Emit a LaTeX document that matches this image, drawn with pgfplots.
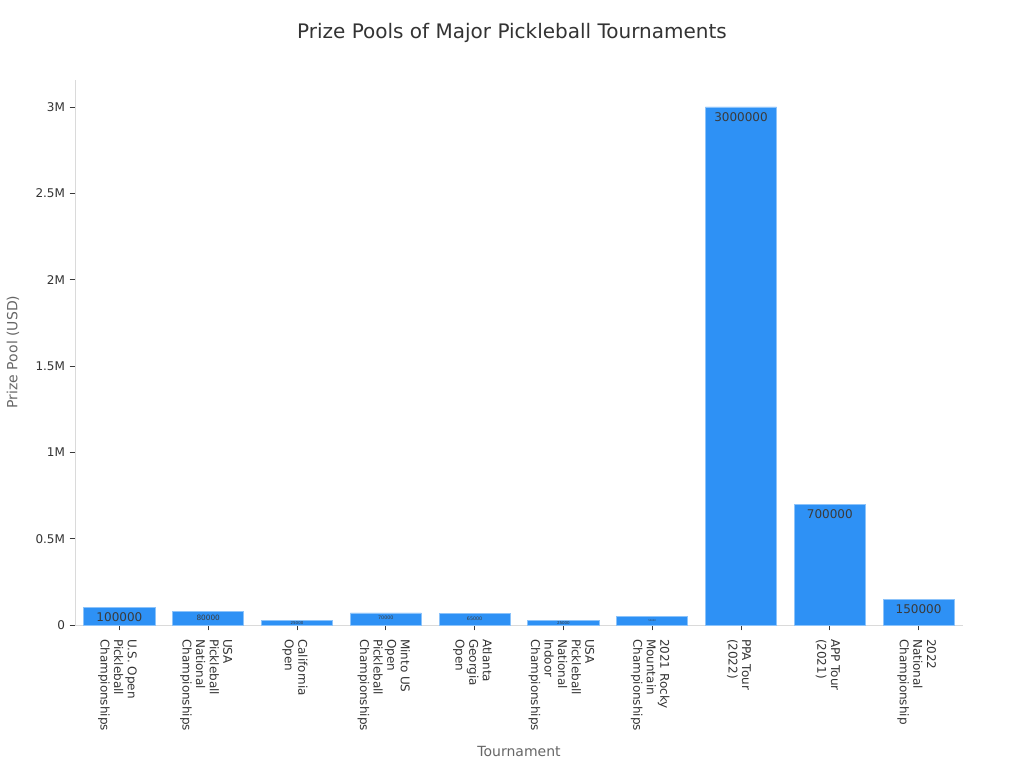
\documentclass[border=0pt]{standalone}
\usepackage{fontspec}
\setmainfont{DejaVu Sans}
\usepackage{pgfplots}
\usepackage{pgfplotstable}
\pgfplotsset{compat=1.18}
\definecolor{barblue}{HTML}{2E91F5}
\definecolor{baredge}{HTML}{8CC3FA}
\definecolor{txt}{HTML}{333333}
\definecolor{lbl}{HTML}{3A3A3A}
\definecolor{axlbl}{HTML}{666666}
\definecolor{spine}{HTML}{DADADA}

\pgfplotstableread{
x y
0 100000
1 80000
2 25000
3 70000
4 65000
5 25000
6 50000
7 3000000
8 700000
9 150000
}\prizes

\begin{document}
\begin{tikzpicture}
\path[use as bounding box] (0pt,0pt) rectangle (768pt,576pt);
\node[text=txt, font=\fontsize{15}{17}\selectfont] at (384pt,551.25pt) {Prize Pools of Major Pickleball Tournaments};
\node[text=axlbl, font=\fontsize{10.5}{12}\selectfont] at (389.25pt,12.75pt) {Tournament};
\node[text=axlbl, font=\fontsize{10.5}{12}\selectfont, rotate=90] at (9.75pt,312pt) {Prize Pool (USD)};
\begin{axis}[
  at={(56.25pt,107.25pt)}, anchor=south west,
  scale only axis, width=666pt, height=408.75pt,
  xmin=-0.5, xmax=9.5, ymin=0, ymax=3156000,
  ybar, bar width=0.8, bar shift=0pt,
  axis x line*=bottom, axis y line*=left,
  axis line style={spine, line width=0.6pt},
  tick align=outside, major tick length=4pt,
  tick style={lbl, line width=0.6pt},
  xtick={0,...,9},
  xticklabels={
    {U.S. Open\\Pickleball\\Championships},
    {USA\\Pickleball\\National\\Championships},
    {California\\Open},
    {Minto US\\Open\\Pickleball\\Championships},
    {Atlanta\\Georgia\\Open},
    {USA\\Pickleball\\National\\Indoor\\Championships},
    {2021 Rocky\\Mountain\\Championships},
    {PPA Tour\\(2022)},
    {APP Tour\\(2021)},
    {2022\\National\\Championship}},
  xticklabel shift=3pt,
  xticklabel style={xshift=-1.5pt, rotate=-90, anchor=west, align=left, text=txt,
    font=\fontsize{9}{10.2}\selectfont},
  ytick={0,500000,1000000,1500000,2000000,2500000,3000000},
  yticklabels={0,0.5M,1M,1.5M,2M,2.5M,3M},
  scaled y ticks=false,
  yticklabel style={text=txt, font=\fontsize{9}{10}\selectfont},
  /pgf/number format/assume math mode=true,
  point meta=explicit symbolic,
  every node near coord/.append style={anchor=north, text=lbl},
]
\addplot[fill=barblue, draw=baredge, line width=0.6pt, point meta=none] table[x=x, y=y] {\prizes};
\addplot[draw=none, fill=none, nodes near coords,
  every node near coord/.append style={font=\fontsize{9}{10}\selectfont, inner sep=3.8pt}]
  coordinates {(0,100000)[100000] (7,3000000)[3000000] (8,700000)[700000] (9,150000)[150000]};
\addplot[draw=none, fill=none, nodes near coords,
  every node near coord/.append style={font=\fontsize{5.5}{6}\selectfont, inner sep=3pt}]
  coordinates {(1,80000)[80000]};
\addplot[draw=none, fill=none, nodes near coords,
  every node near coord/.append style={font=\fontsize{3.6}{4}\selectfont, inner sep=2.2pt}]
  coordinates {(3,70000)[70000] (4,65000)[65000]};
\addplot[draw=none, fill=none, nodes near coords,
  every node near coord/.append style={font=\fontsize{3}{3.5}\selectfont, inner sep=0.6pt}]
  coordinates {(2,25000)[25000] (5,25000)[25000]};
\addplot[draw=none, fill=none, nodes near coords,
  every node near coord/.append style={font=\fontsize{1.8}{2}\selectfont, inner sep=2pt}]
  coordinates {(6,50000)[50000]};
\end{axis}
\end{tikzpicture}
\end{document}
